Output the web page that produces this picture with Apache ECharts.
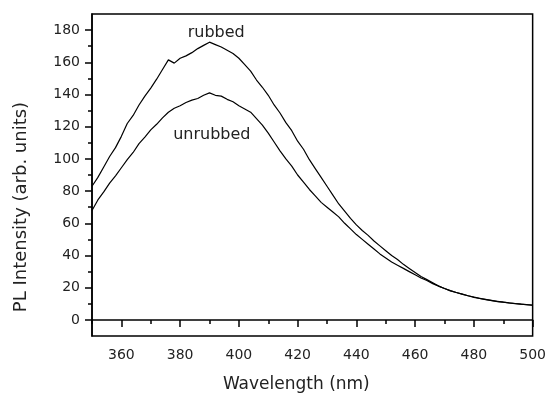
<!DOCTYPE html>
<html>
<head>
<meta charset="utf-8">
<script src="https://cdn.jsdelivr.net/npm/echarts@6/dist/echarts.min.js"></script>
<style>
html,body{margin:0;padding:0;background:#fff;}
#chart{width:549px;height:398px;}
</style>
</head>
<body>
<div id="chart"></div>
<script>
// Wavelength (nm) sample positions
var wavelengths = [350,352,354,356,358,360,362,364,366,368,370,372,374,376,378,380,382,384,386,388,390,392,394,396,398,400,402,404,406,408,410,412,414,416,418,420,422,424,426,428,430,432,434,436,438,440,442,444,446,448,450,452,454,456,458,460,462,464,466,468,470,472,474,476,478,480,482,484,486,488,490,492,494,496,498,500];
// PL intensity, rubbed film
var rubbed = [83,88.5,95,101.5,107,114,122,127,133.5,139,144,149.5,155.5,161.5,159.5,162.5,164,166,168.5,170.5,172.5,171,169.5,167.5,165.5,162.5,158.5,154.5,149,144.5,139.5,133.5,128.5,122.5,117.5,111,106,99.5,94,88.5,83,77.5,72,67.5,63,59,55.5,52.5,49,46,43,40,37.5,34.5,32,29.5,27,25,23,21,19.5,18,17,16,15,14,13.3,12.7,12,11.5,11,10.6,10.2,9.8,9.5,9.2];
// PL intensity, unrubbed film
var unrubbed = [68,74.5,79.5,85,89.5,94.5,99.5,104,109.5,113.5,118,121.5,125.5,129,131.5,133,135,136.5,137.5,139.5,141,139.5,139,137,135.5,133,131,129,125,121,116,110.5,105,100,95.5,90,85.5,81,77,73,70,67,64,60,56.5,53,50,47,44,41,38.5,36,34,32,30,28,26,24.5,22.5,21,19.5,18.2,17,16,15,14.2,13.4,12.6,12.1,11.4,11,10.5,10.1,9.8,9.4,9.1];
// Axis ticks
var xMajorTicks = [360,380,400,420,440,460,480,500];
var xMinorTicks = [350,370,390,410,430,450,470,490];
var yMajorTicks = [0,20,40,60,80,100,120,140,160,180];
var yMinorTicks = [10,30,50,70,90,110,130,150,170];
// Curve annotations [wavelength, intensity]
var labelRubbed = [392.3, 178];
var labelUnrubbed = [390.8, 115];

function pairs(xs, ys){ return xs.map(function(x,i){ return [x, ys[i]]; }); }

var chart = echarts.init(document.getElementById('chart'), null, {renderer:'canvas'});
var font = 'DejaVu Sans';
var txt = '#222';
chart.setOption({
  animation: false,
  backgroundColor: '#fff',
  grid: {left: 92, right: 14, top: 14, bottom: 59, show: true, borderColor: '#000', borderWidth: 1.5},
  xAxis: [{
    type: 'value', min: 350, max: 500,
    name: 'Wavelength (nm)', nameLocation: 'middle', nameGap: 40,
    nameTextStyle: {fontFamily: font, fontSize: 17, color: txt, padding: [0, 32, 0, 0]},
    axisLine: {show: true, lineStyle: {color: '#000', width: 1.5}},
    axisTick: {show: true, length: 7, customValues: xMajorTicks, lineStyle: {color: '#000', width: 1.5}},
    axisLabel: {show: true, customValues: xMajorTicks, margin: 12, fontFamily: font, fontSize: 14, color: txt},
    splitLine: {show: false}
  }, {
    type: 'value', min: 350, max: 500, position: 'bottom',
    axisLine: {show: false},
    axisTick: {show: true, length: 4, customValues: xMinorTicks, lineStyle: {color: '#000', width: 1.5}},
    axisLabel: {show: false},
    splitLine: {show: false}
  }],
  yAxis: [{
    type: 'value', min: -10, max: 190,
    name: 'PL Intensity (arb. units)', nameLocation: 'middle', nameGap: 62,
    nameTextStyle: {fontFamily: font, fontSize: 18, color: txt, padding: [0, 64, 0, 0]},
    axisLine: {show: true, lineStyle: {color: '#000', width: 1.5}},
    axisTick: {show: true, length: 7, customValues: yMajorTicks, lineStyle: {color: '#000', width: 1.5}},
    axisLabel: {show: true, customValues: yMajorTicks, margin: 12, fontFamily: font, fontSize: 14, color: txt},
    splitLine: {show: false}
  }, {
    type: 'value', min: -10, max: 190, position: 'left',
    axisLine: {show: false},
    axisTick: {show: true, length: 4, customValues: yMinorTicks, lineStyle: {color: '#000', width: 1.5}},
    axisLabel: {show: false},
    splitLine: {show: false}
  }],
  series: [{
    name: 'unrubbed', type: 'line', data: pairs(wavelengths, unrubbed),
    xAxisIndex: 0, yAxisIndex: 0,
    showSymbol: false, symbol: 'none',
    lineStyle: {color: '#000', width: 1.2},
    markPoint: {
      symbol: 'circle', symbolSize: 1, itemStyle: {color: 'rgba(0,0,0,0)'},
      label: {show: true, position: 'inside', formatter: 'unrubbed', fontFamily: font, fontSize: 16, color: txt},
      data: [{coord: labelUnrubbed}]
    }
  }, {
    name: 'rubbed', type: 'line', data: pairs(wavelengths, rubbed),
    xAxisIndex: 0, yAxisIndex: 0,
    showSymbol: false, symbol: 'none',
    lineStyle: {color: '#000', width: 1.2},
    markPoint: {
      symbol: 'circle', symbolSize: 1, itemStyle: {color: 'rgba(0,0,0,0)'},
      label: {show: true, position: 'inside', formatter: 'rubbed', fontFamily: font, fontSize: 16, color: txt},
      data: [{coord: labelRubbed}]
    }
  }]
});
</script>
</body>
</html>
